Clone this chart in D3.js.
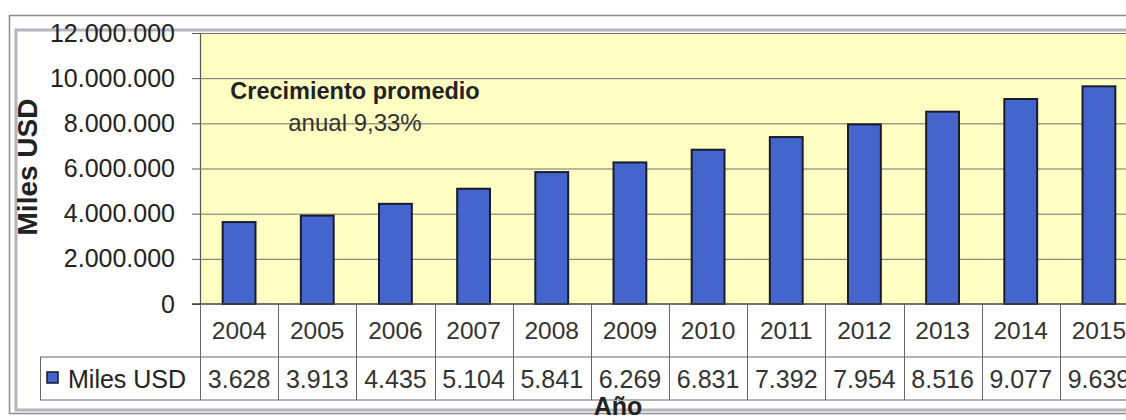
<!DOCTYPE html>
<html>
<head>
<meta charset="utf-8">
<script src="https://cdn.jsdelivr.net/npm/d3@7/dist/d3.min.js"></script>
<style>
    body { margin: 0; background: #fff; }
    svg { display: block; font-family: "Liberation Sans", Arial, sans-serif; }
</style>
</head>
<body>
<div id="container"></div>
<script>
const years = ['2004', '2005', '2006', '2007', '2008', '2009', '2010', '2011', '2012', '2013', '2014', '2015'];
const values = [3628, 3913, 4435, 5104, 5841, 6269, 6831, 7392, 7954, 8516, 9077, 9639];
const tickValues = [0, 2000000, 4000000, 6000000, 8000000, 10000000, 12000000];
const seriesName = 'Miles USD';
const axisTitleY = 'Miles USD';
const axisTitleX = 'Año';
const note = ['Crecimiento promedio', 'anual 9,33%'];

const W = 1126, H = 420;
const plot = { left: 200, right: 1138, top: 33, bottom: 304 };
const rowYears = { top: 304, bottom: 357 };
const rowValues = { top: 357, bottom: 400 };
const legendLeft = 40;

// table values are shown in thousands of the axis unit
const fmt = (v) => d3.format(',')(v).replace(/,/g, '.');

const svg = d3.select('#container')
    .append('svg')
    .attr('width', W)
    .attr('height', H);

/* outer frame, double line */
svg.append('rect')
    .attr('x', 9.5).attr('y', 15.5)
    .attr('width', W + 20).attr('height', 398)
    .attr('fill', 'none')
    .attr('stroke', '#8c8c8c')
    .attr('stroke-width', 1.5);
svg.append('rect')
    .attr('x', 16).attr('y', 30)
    .attr('width', W + 20).attr('height', 380)
    .attr('fill', 'none')
    .attr('stroke', '#b4b4bc')
    .attr('stroke-width', 3);

const x = d3.scaleBand()
    .domain(years)
    .range([plot.left, plot.right])
    .paddingInner(0)
    .paddingOuter(0);

const y = d3.scaleLinear()
    .domain([0, 12000000])
    .range([plot.bottom, plot.top]);

/* plot background */
svg.append('rect')
    .attr('x', plot.left).attr('y', plot.top)
    .attr('width', plot.right - plot.left)
    .attr('height', plot.bottom - plot.top)
    .attr('fill', '#ffffc4');

/* y axis */
const yAxis = svg.append('g')
    .attr('class', 'y-axis')
    .attr('transform', `translate(${plot.left},0)`)
    .call(d3.axisLeft(y)
        .tickValues(tickValues)
        .tickSize(8)
        .tickFormat(fmt));
yAxis.select('.domain').attr('stroke', '#555').attr('stroke-width', 1.2);
yAxis.selectAll('.tick line').attr('stroke', '#555');
yAxis.selectAll('.tick text')
    .attr('x', -25)
    .attr('fill', '#222')
    .attr('font-size', '25px')
    .attr('font-family', '"Liberation Sans", Arial, sans-serif');

/* gridlines */
svg.append('g')
    .attr('class', 'grid')
    .selectAll('line')
    .data(tickValues.filter((v) => v > 0))
    .join('line')
    .attr('x1', plot.left).attr('x2', plot.right)
    .attr('y1', (d) => y(d) + 0.5).attr('y2', (d) => y(d) + 0.5)
    .attr('stroke', '#707070')
    .attr('stroke-width', 1);

/* note */
const noteX = 355;
svg.append('text')
    .attr('x', noteX).attr('y', 99)
    .attr('text-anchor', 'middle')
    .attr('font-weight', 'bold')
    .attr('font-size', '23.5px')
    .attr('fill', '#222')
    .text(note[0]);
svg.append('text')
    .attr('x', noteX).attr('y', 131)
    .attr('text-anchor', 'middle')
    .attr('font-size', '24px')
    .attr('fill', '#333')
    .text(note[1]);

/* bars */
const barW = x.bandwidth() * 0.42;
svg.append('g')
    .attr('class', 'bars')
    .selectAll('rect')
    .data(years.map((yr, i) => ({ year: yr, value: values[i] * 1000 })))
    .join('rect')
    .attr('x', (d) => x(d.year) + (x.bandwidth() - barW) / 2)
    .attr('y', (d) => y(d.value))
    .attr('width', barW)
    .attr('height', (d) => y(0) - y(d.value))
    .attr('fill', '#4466cc')
    .attr('stroke', '#1a1a2a')
    .attr('stroke-width', 2);

/* zero line */
svg.append('line')
    .attr('x1', plot.left - 8).attr('x2', plot.right)
    .attr('y1', plot.bottom).attr('y2', plot.bottom)
    .attr('stroke', '#444').attr('stroke-width', 1.5);

/* data table */
const table = svg.append('g').attr('class', 'table');
const lineColor = '#666';

table.append('line')
    .attr('x1', legendLeft).attr('x2', plot.right)
    .attr('y1', rowValues.top).attr('y2', rowValues.top)
    .attr('stroke', lineColor);
table.append('line')
    .attr('x1', legendLeft).attr('x2', plot.right)
    .attr('y1', rowValues.bottom).attr('y2', rowValues.bottom)
    .attr('stroke', lineColor);
table.append('line')
    .attr('x1', legendLeft + 0.5).attr('x2', legendLeft + 0.5)
    .attr('y1', rowValues.top).attr('y2', rowValues.bottom)
    .attr('stroke', lineColor);

table.selectAll('.sep')
    .data(years.concat(['end']))
    .join('line')
    .attr('class', 'sep')
    .attr('x1', (d) => Math.round(d === 'end' ? plot.right : x(d)) + 0.5)
    .attr('x2', (d) => Math.round(d === 'end' ? plot.right : x(d)) + 0.5)
    .attr('y1', rowYears.top).attr('y2', rowValues.bottom)
    .attr('stroke', lineColor);

table.selectAll('.year')
    .data(years)
    .join('text')
    .attr('class', 'year')
    .attr('x', (d) => x(d) + x.bandwidth() / 2)
    .attr('y', (rowYears.top + rowYears.bottom) / 2)
    .attr('dy', '0.36em')
    .attr('text-anchor', 'middle')
    .attr('font-size', '24.5px')
    .attr('fill', '#333')
    .text((d) => d);

table.selectAll('.val')
    .data(years.map((yr, i) => ({ year: yr, value: values[i] })))
    .join('text')
    .attr('class', 'val')
    .attr('x', (d) => x(d.year) + x.bandwidth() / 2)
    .attr('y', (rowValues.top + rowValues.bottom) / 2)
    .attr('dy', '0.36em')
    .attr('text-anchor', 'middle')
    .attr('font-size', '25px')
    .attr('fill', '#333')
    .text((d) => fmt(d.value));

/* legend key */
table.append('rect')
    .attr('x', 47).attr('y', 372)
    .attr('width', 11).attr('height', 11)
    .attr('fill', '#4466cc')
    .attr('stroke', '#1a1a2a')
    .attr('stroke-width', 1.5);
table.append('text')
    .attr('x', 68)
    .attr('y', (rowValues.top + rowValues.bottom) / 2)
    .attr('dy', '0.36em')
    .attr('font-size', '25px')
    .attr('fill', '#222')
    .text(seriesName);

/* axis titles */
svg.append('text')
    .attr('transform', `translate(${37},${167}) rotate(-90)`)
    .attr('text-anchor', 'middle')
    .attr('font-weight', 'bold')
    .attr('font-size', '28px')
    .attr('fill', '#222')
    .text(axisTitleY);

svg.append('text')
    .attr('x', 618).attr('y', 415)
    .attr('text-anchor', 'middle')
    .attr('font-weight', 'bold')
    .attr('font-size', '25px')
    .attr('fill', '#222')
    .text(axisTitleX);
</script>
</body>
</html>
